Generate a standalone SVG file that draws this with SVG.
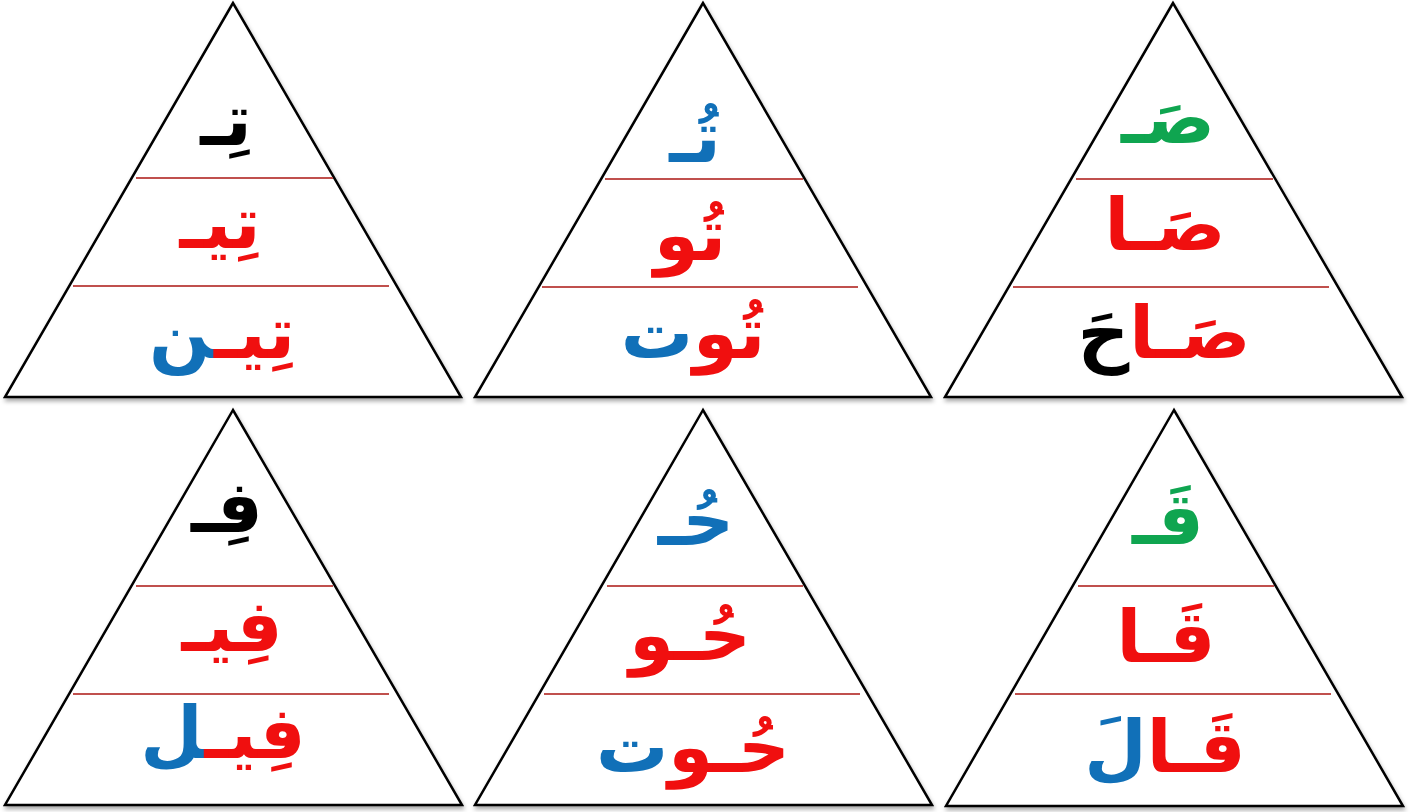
<svg xmlns="http://www.w3.org/2000/svg" width="1418" height="812" viewBox="0 0 1418 812">
<defs>
<filter id="sh" x="-5%" y="-5%" width="110%" height="115%">
<feDropShadow dx="1" dy="3" stdDeviation="2" flood-color="#000" flood-opacity="0.35"/>
</filter>
</defs>
<style>
.tri{fill:#fff;stroke:#000;stroke-width:2.5;stroke-linejoin:miter}
.sep{stroke:#c0504d;stroke-width:2}
.t{font-family:"DejaVu Sans",sans-serif;font-weight:bold;font-size:72px;text-anchor:middle;direction:rtl}
.r{fill:#f00f0f}.b{fill:#1170b8}.g{fill:#0fa550}.k{fill:#000}
</style>
<g id="tri1">
<polygon class="tri" filter="url(#sh)" points="233,3 5,397 461,397"/>
<line class="sep" x1="136" y1="178" x2="333" y2="178"/>
<line class="sep" x1="73" y1="286" x2="389" y2="286"/>
<text class="t k" x="226" y="145">تِـ</text>
<text class="t r" x="220" y="248">تِيـ</text>
<text class="t" x="222" y="358"><tspan class="r">تِيـ</tspan><tspan class="b">ن</tspan></text>
</g>
<g id="tri2">
<polygon class="tri" filter="url(#sh)" points="703,3 475,397 931,397"/>
<line class="sep" x1="605" y1="179" x2="803" y2="179"/>
<line class="sep" x1="542" y1="287" x2="858" y2="287"/>
<text class="t b" x="695" y="162">تُـ</text>
<text class="t r" x="690" y="260">تُو</text>
<text class="t" x="693" y="358"><tspan class="r">تُو</tspan><tspan class="b">ت</tspan></text>
</g>
<g id="tri3">
<polygon class="tri" filter="url(#sh)" points="1173,3 945,397 1402,397"/>
<line class="sep" x1="1076" y1="179" x2="1273" y2="179"/>
<line class="sep" x1="1013" y1="287" x2="1329" y2="287"/>
<text class="t g" x="1168" y="143">صَـ</text>
<text class="t r" x="1165" y="250">صَـا</text>
<text class="t" x="1164" y="358"><tspan class="r">صَـا</tspan><tspan class="k">حَ</tspan></text>
</g>
<g id="tri4">
<polygon class="tri" filter="url(#sh)" points="233,410 5,805 462,805"/>
<line class="sep" x1="136" y1="586" x2="333" y2="586"/>
<line class="sep" x1="73" y1="694" x2="389" y2="694"/>
<text class="t k" x="227" y="532">فِـ</text>
<text class="t r" x="232" y="651">فِيـ</text>
<text class="t" x="223" y="758"><tspan class="r">فِيـ</tspan><tspan class="b">ل</tspan></text>
</g>
<g id="tri5">
<polygon class="tri" filter="url(#sh)" points="703,410 475,805 932,805"/>
<line class="sep" x1="607" y1="586" x2="803" y2="586"/>
<line class="sep" x1="544" y1="694" x2="860" y2="694"/>
<text class="t b" x="696" y="545">حُـ</text>
<text class="t r" x="690" y="660">حُـو</text>
<text class="t" x="693" y="772"><tspan class="r">حُـو</tspan><tspan class="b">ت</tspan></text>
</g>
<g id="tri6">
<polygon class="tri" filter="url(#sh)" points="1174,410 946,806 1403,806"/>
<line class="sep" x1="1078" y1="586" x2="1274" y2="586"/>
<line class="sep" x1="1015" y1="694" x2="1331" y2="694"/>
<text class="t g" x="1168" y="544">قَـ</text>
<text class="t r" x="1166" y="662">قَـا</text>
<text class="t" x="1165" y="772"><tspan class="r">قَـا</tspan><tspan class="b">لَ</tspan></text>
</g>
<g id="connectors"></g>
</svg>
